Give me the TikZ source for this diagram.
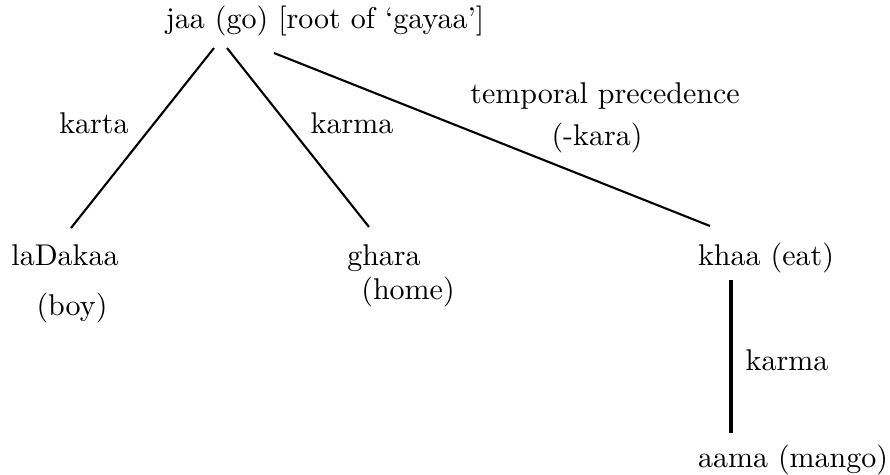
\documentclass[tikz,border=0pt]{standalone}
\begin{document}
\begin{tikzpicture}[x=0.33333pt,y=-0.33333pt,
  lbl/.style={anchor=base,inner sep=0pt,font=\normalsize},
  edge/.style={line width=0.7pt},
  thickedge/.style={line width=1.3pt}]
\useasboundingbox (0,0) rectangle (890,474);
% words
\node[lbl] (root) at (325,28) {jaa (go) [root of `gayaa']};
\node[lbl] (boy1) at (65,265) {laDakaa};
\node[lbl] (boy2) at (72,315) {(boy)};
\node[lbl] (home1) at (384,265) {ghara};
\node[lbl] (home2) at (408,299) {(home)};
\node[lbl] (eat) at (766,265) {khaa (eat)};
\node[lbl] (mango) at (793,467) {aama (mango)};
% relation labels
\node[lbl] (l1) at (94,133) {karta};
\node[lbl] (l2) at (352,133) {karma};
\node[lbl] (l3a) at (605,103) {temporal precedence};
\node[lbl] (l3b) at (597,145) {(-kara)};
\node[lbl] (l4) at (787,370) {karma};
% connector end points
\coordinate (r1) at (214,48);
\coordinate (r2) at (227,48);
\coordinate (r3) at (274,53);
\coordinate (b1) at (71,228);
\coordinate (h1) at (369,227);
\coordinate (e1) at (710,226);
\coordinate (e2) at (731,280);
\coordinate (m1) at (731,433);
\draw[edge] (r1) -- (b1);
\draw[edge] (r2) -- (h1);
\draw[edge] (r3) -- (e1);
\draw[thickedge] (e2) -- (m1);
\end{tikzpicture}
\end{document}
